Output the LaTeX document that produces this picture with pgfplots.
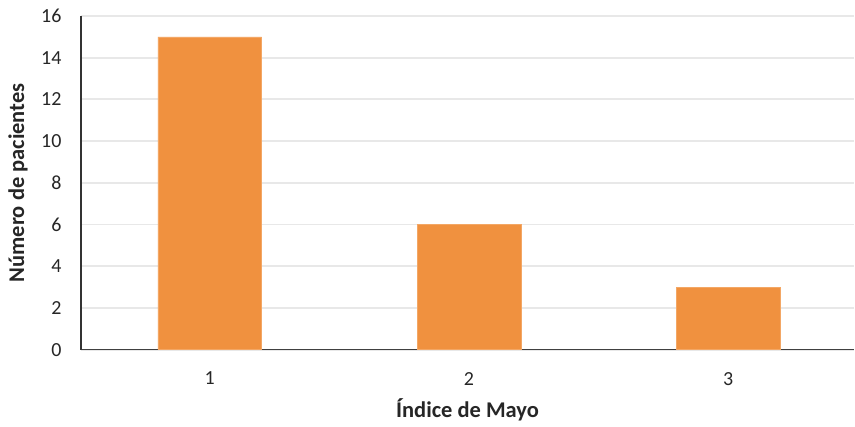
\documentclass[border=0pt]{standalone}
\usepackage{pgfplots}
\pgfplotsset{compat=1.18}
\usepackage{fontspec}
\setmainfont{Carlito}
\definecolor{barorange}{HTML}{F0913F}
\definecolor{gridgray}{HTML}{E8E8E8}
\definecolor{axisgray}{HTML}{404040}
\begin{document}
\begin{tikzpicture}
\begin{axis}[
  scale only axis,
  width=774bp, height=334bp,
  xmin=0.503, xmax=3.486,
  ymin=0, ymax=16,
  ytick={0,2,...,16},
  xtick={1,2,3},
  axis x line*=bottom,
  axis y line*=left,
  x axis line style={draw=axisgray, line width=1.4bp, -},
  y axis line style={draw=black!80, line width=1.2bp, -},
  major tick length=0pt,
  ymajorgrids,
  grid style={draw=gridgray, line width=1.8bp},
  tick label style={font=\fontsize{20bp}{24bp}\selectfont, text=black!85},
  /pgf/number format/assume math mode=true,
  yticklabel style={xshift=-16bp},
  xticklabel style={yshift=-19bp},
  xlabel={\textbf{Índice de Mayo}},
  ylabel={\textbf{Número de pacientes}},
  label style={font=\fontsize{22.5bp}{26bp}\selectfont, text=black!85},
  xlabel style={at={(axis description cs:0.5,-0.1796)}, anchor=center},
  ylabel style={at={(axis description cs:-0.0814,0.5)}, anchor=center},
  clip=false,
]
\addplot[ybar, bar width=0.4, fill=barorange, draw=barorange!80!white, line width=0.5bp]
  coordinates {(1,15) (2,6) (3,3)};
\end{axis}
\path (current axis.south west) ++(-81bp,-77bp) coordinate (bbsw);
\path (current axis.north east) ++(0bp,16bp) coordinate (bbne);
\useasboundingbox (bbsw) rectangle (bbne);
\end{tikzpicture}
\end{document}
